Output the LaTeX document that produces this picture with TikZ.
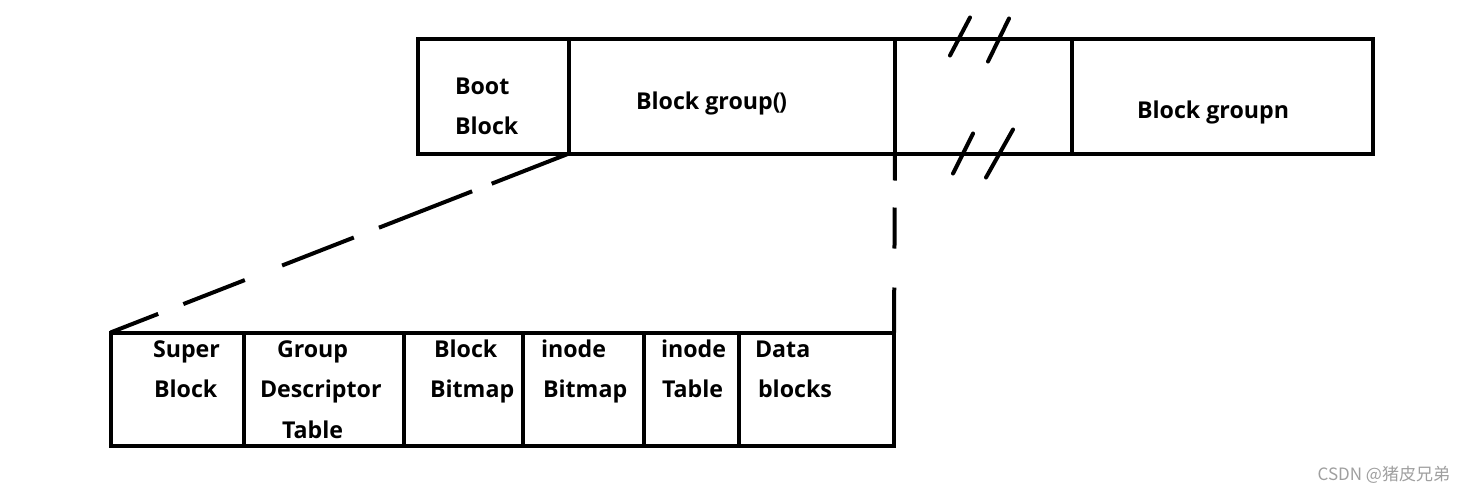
\documentclass[tikz,border=0pt]{standalone}
\usepackage{fontspec}
\setmainfont{Open Sans}
\newfontfamily\cjkfont{Noto Sans CJK SC}
\usetikzlibrary{positioning}

\begin{document}
\begin{tikzpicture}[
        x=1pt, y=-1pt,
        line width=4pt,
        cell/.style={draw, rectangle, inner sep=0pt, outer sep=0pt, anchor=north west},
        cell text/.style={anchor=base west, inner sep=0pt,
            font=\bfseries\fontsize{23.2}{28}\selectfont},
        cut mark/.style={line width=4pt, line cap=round},
    ]
    \newcommand*{\DiskHeight}{115}
    \newcommand*{\GroupHeight}{113}

    \useasboundingbox (0, 0) rectangle (1466, 493);

    % Top row: the disk, cells placed one after the other
    \node[cell, minimum width=151, minimum height=\DiskHeight] (boot) at (418, 38.5) {};
    \foreach \name/\w [remember=\name as \prev (initially boot)] in {gzero/326, gap/176.5, gn/301} {
            \node[cell, minimum width=\w, minimum height=\DiskHeight] (\name) at (\prev.north east) {};
        }

    % Bottom row: the parts of one block group
    \node[cell, minimum width=133.5, minimum height=\GroupHeight] (sb) at (110.5, 332.5) {};
    \foreach \name/\w [remember=\name as \prev (initially sb)] in {gdt/159.5, bbm/119.5, ibm/121, itab/95, data/155} {
            \node[cell, minimum width=\w, minimum height=\GroupHeight] (\name) at (\prev.north east) {};
        }

    % Cut marks across the gap
    \draw[cut mark] (gap.north west) ++(55, 17) -- ++(20, -38);
    \draw[cut mark] (gap.north west) ++(93, 23) -- ++(21, -43);
    \draw[cut mark] (gap.south west) ++(58, 20) -- ++(20, -40);
    \draw[cut mark] (gap.south west) ++(91, 24) -- ++(27, -48);

    % Zoom lines from block group 0 down to its parts
    \draw[dash pattern=on 83pt off 21pt on 100pt off 27pt on 77pt off 40pt on 66pt off 27pt]
    (boot.south east) -- (sb.north west);
    \draw[dash pattern=on 27pt off 27pt on 41pt off 39pt on 45pt off 10pt]
    (gzero.south east) -- (data.north east);

    % Labels
    \foreach \x/\y/\t [count=\i] in {
            453/94/Boot, 453/134/Block, 634/109/Block group(\kern-1.5pt), 1135/118/Block groupn,
            151/357/Super, 152/397/Block,
            275/357/Group, 258/397/Descriptor, 280/438/Table,
            432/357/Block, 428/397/Bitmap,
            539/357/inode, 541/397/Bitmap,
            659/357/inode, 660/397/Table,
            753/357/Data, 756/397/blocks} {
            \node[cell text] (t\i) at (\x, \y) {\t};
        }

    \node[anchor=base east, inner sep=0pt, text=gray!75,
        font=\cjkfont\fontsize{17}{20}\selectfont] (mark) at (1452, 480) {CSDN @猪皮兄弟};
\end{tikzpicture}
\end{document}
